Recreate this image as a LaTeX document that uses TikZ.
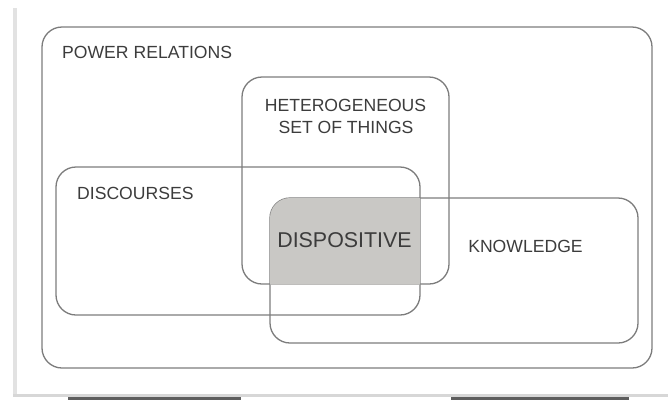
\documentclass[tikz,border=0pt]{standalone}
\usepackage{fontspec}
\setmainfont{Liberation Sans}
\definecolor{boxline}{HTML}{7C7C7C}
\definecolor{dispfill}{HTML}{C9C8C5}
\definecolor{txt}{HTML}{3C3C3C}
\definecolor{framelight}{HTML}{E2E2E2}
\definecolor{bardark}{HTML}{5E5E5E}
\begin{document}
\begin{tikzpicture}[x=1pt,y=-1pt,
  setbox/.style={draw=boxline,line width=1.3pt,rounded corners=20pt,rectangle,inner sep=0pt},
  lbl/.style={inner sep=0pt,text=txt,font=\fontsize{17.6}{20}\selectfont},
  biglbl/.style={inner sep=0pt,text=txt,font=\fontsize{21.4}{24}\selectfont}]
\useasboundingbox (0,0) rectangle (668,400);
% page frame
\fill[framelight] (12.5,8) rectangle (16.5,396);
\fill[framelight!95!black] (12.5,393.5) rectangle (668,397);
\fill[bardark] (68,397) rectangle (241,400);
\fill[bardark] (451,397) rectangle (629,400);
% sets
\node[setbox,minimum width=610pt,minimum height=341pt] (power) at (347,197.5) {};
\node[setbox,minimum width=207pt,minimum height=207pt] (hetero) at (345.5,180.5) {};
\node[setbox,minimum width=364pt,minimum height=148pt] (disc) at (238,241) {};
\node[setbox,minimum width=368pt,minimum height=145pt] (know) at (454,270.5) {};
% intersection
\fill[dispfill] (420,284.5) -- (270,284.5) -- (270,218) arc(180:270:20) -- (420,198) -- cycle;
% labels
\node[lbl,anchor=west] (tpower) at (62,52) {POWER RELATIONS};
\node[lbl] (thet1) at (345.5,105) {HETEROGENEOUS};
\node[lbl] (thet2) at (346,127) {SET OF THINGS};
\node[lbl,anchor=west] (tdisc) at (77,193) {DISCOURSES};
\node[lbl] (tknow) at (525.5,246) {KNOWLEDGE};
\node[biglbl] (tdisp) at (344.5,240) {DISPOSITIVE};
\end{tikzpicture}
\end{document}
